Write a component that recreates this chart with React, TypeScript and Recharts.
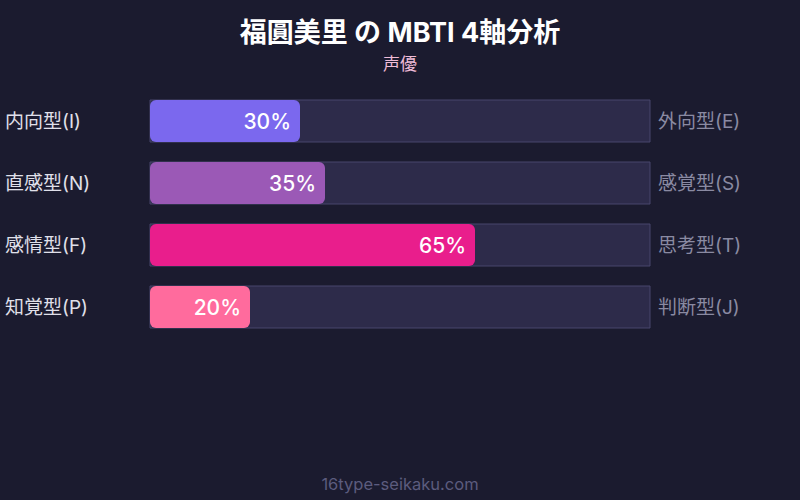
import React from "react";
import { BarChart, Bar, XAxis, YAxis, LabelList } from "recharts";

const leftLabels = ["内向型(I)", "直感型(N)", "感情型(F)", "知覚型(P)"];
const rightLabels = ["外向型(E)", "感覚型(S)", "思考型(T)", "判断型(J)"];
const values = [30, 35, 65, 20];
const colors = ["#7b68ee", "#9b59b6", "#e91e8c", "#ff6b9d"];

const data = leftLabels.map((l, i) => ({
  left: l,
  right: rightLabels[i],
  value: values[i],
  color: colors[i],
}));

const FONT = "Inter, 'Noto Sans CJK JP', 'Noto Sans', sans-serif";

const Tick = (props: any) => {
  const { y, payload, index } = props;
  const row = data[index] ?? data.find((d) => d.left === payload.value);
  return (
    <g>
      <text x={5} y={y} dy={6.5} textAnchor="start" fill="#e0e0ea" fontSize={19} fontFamily={FONT}>
        {payload.value}
      </text>
      <text x={658} y={y} dy={6.5} textAnchor="start" fill="#8a8aa2" fontSize={19} fontFamily={FONT}>
        {row ? row.right : ""}
      </text>
    </g>
  );
};

const PctLabel = (props: any) => {
  const { x, y, width, height, value } = props;
  return (
    <text
      x={x + width - 9}
      y={y + height / 2}
      dy={7.5}
      textAnchor="end"
      fill="#ffffff"
      fontSize={21}
      fontWeight={500}
      fontFamily={FONT}
    >
      {value}%
    </text>
  );
};

const BarShape = (props: any) => {
  const { x, y, width, height, payload } = props;
  return <rect x={x} y={y} width={width} height={height} rx={6} ry={6} fill={payload.color} />;
};

export default function App() {
  return (
    <div
      style={{
        position: "absolute",
        top: 0,
        left: 0,
        width: 800,
        height: 500,
        background: "#1b1b2f",
        fontFamily: FONT,
        overflow: "hidden",
      }}
    >
      <div
        style={{
          position: "absolute",
          top: 16,
          left: 0,
          width: 800,
          textAlign: "center",
          color: "#ffffff",
          fontSize: 27,
          fontWeight: 700,
          lineHeight: "34px",
        }}
      >
        福圓美里 の MBTI 4軸分析
      </div>
      <div
        style={{
          position: "absolute",
          top: 53,
          left: 0,
          width: 800,
          textAlign: "center",
          color: "#f0bcd8",
          fontSize: 17,
          lineHeight: "22px",
        }}
      >
        声優
      </div>
      <div style={{ position: "absolute", top: 0, left: 0 }}>
        <BarChart
          width={800}
          height={500}
          data={data}
          layout="vertical"
          margin={{ top: 90, right: 150, bottom: 162, left: 0 }}
          barSize={42}
        >
          <XAxis type="number" domain={[0, 100]} hide />
          <YAxis
            type="category"
            dataKey="left"
            width={150}
            axisLine={false}
            tickLine={false}
            tick={<Tick />}
          />
          <Bar
            dataKey="value"
            isAnimationActive={false}
            background={{ fill: "#2d2b4a", stroke: "#48466c", strokeWidth: 1 }}
            shape={<BarShape />}
          >
            <LabelList dataKey="value" content={<PctLabel />} />
          </Bar>
        </BarChart>
      </div>
      <div
        style={{
          position: "absolute",
          top: 474,
          left: 0,
          width: 800,
          textAlign: "center",
          color: "#5c5c7e",
          fontSize: 16.5,
          lineHeight: "20px",
        }}
      >
        16type-seikaku.com
      </div>
    </div>
  );
}
